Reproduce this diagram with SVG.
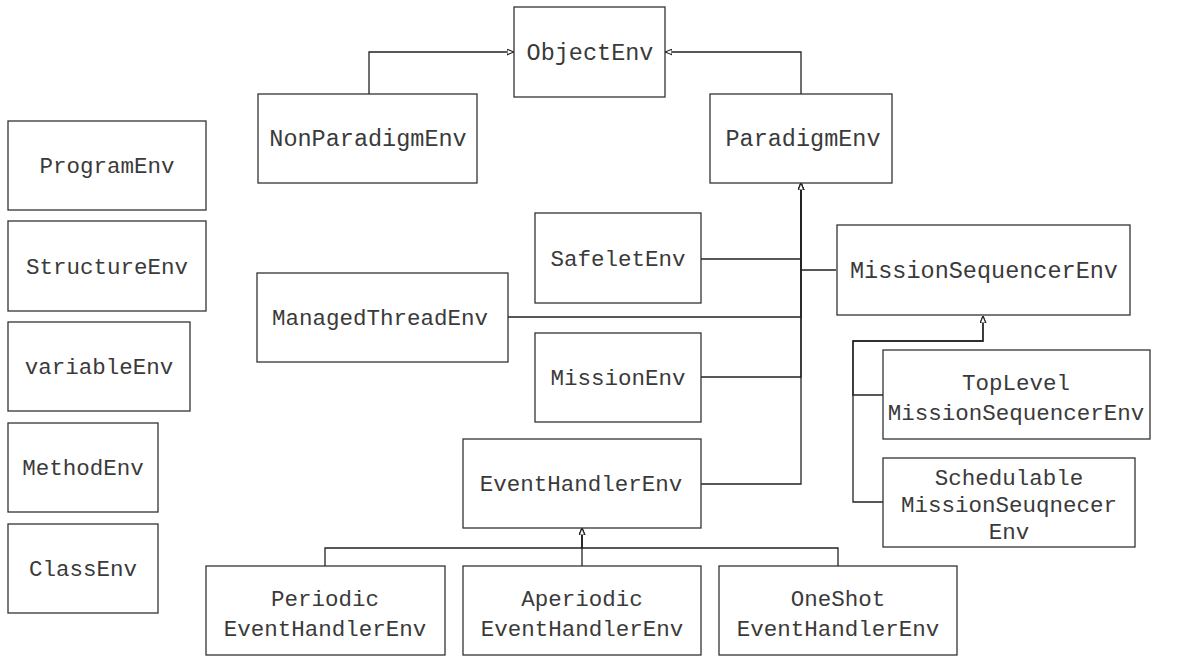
<svg xmlns="http://www.w3.org/2000/svg" width="1186" height="657" viewBox="0 0 1186 657">
  <style>
    .box { fill: #ffffff; stroke: #333333; stroke-width: 1.3; }
    .lbl { font-family: "Liberation Mono", "Courier New", monospace; font-size: 22.5px; fill: #3a3a3a; text-anchor: middle; }
    .big { font-size: 23.5px; }
    .edge { fill: none; stroke: #222222; stroke-width: 1.3; }
  </style>
  <defs>
    <marker id="tri" viewBox="0 0 10 10" refX="10" refY="5" markerWidth="7" markerHeight="7" markerUnits="userSpaceOnUse" orient="auto">
      <path d="M0,1 L10,5 L0,9 Z" fill="#ffffff" stroke="#222222" stroke-width="1.6"/>
    </marker>
  </defs>
  <rect width="1186" height="657" fill="#ffffff"/>

  <g id="connectors">
    <path class="edge" d="M369,94 V52 H514" marker-end="url(#tri)"/>
    <path class="edge" d="M801,94 V52 H665" marker-end="url(#tri)"/>
    <path class="edge" d="M701,259 H801 V183" marker-end="url(#tri)"/>
    <path class="edge" d="M836,270 H801 V183" marker-end="url(#tri)"/>
    <path class="edge" d="M508,317 H801 V183" marker-end="url(#tri)"/>
    <path class="edge" d="M701,377 H801 V183" marker-end="url(#tri)"/>
    <path class="edge" d="M701,484 H801 V183" marker-end="url(#tri)"/>
    <path class="edge" d="M883,395 H853 V341 H983 V316" marker-end="url(#tri)"/>
    <path class="edge" d="M883,502 H853 V341 H983 V316" marker-end="url(#tri)"/>
    <path class="edge" d="M325,566 V548 H582 V528" marker-end="url(#tri)"/>
    <path class="edge" d="M582,566 V528" marker-end="url(#tri)"/>
    <path class="edge" d="M838,566 V548 H582 V528" marker-end="url(#tri)"/>
  </g>

  <g id="ProgramEnv"><rect class="box" x="8" y="121" width="198" height="89"/><text class="lbl" x="107" y="173">ProgramEnv</text></g>
  <g id="StructureEnv"><rect class="box" x="8" y="221" width="198" height="90"/><text class="lbl" x="107" y="274">StructureEnv</text></g>
  <g id="variableEnv"><rect class="box" x="8" y="322" width="182" height="89"/><text class="lbl" x="99" y="374">variableEnv</text></g>
  <g id="MethodEnv"><rect class="box" x="8" y="423" width="150" height="89"/><text class="lbl" x="83" y="475">MethodEnv</text></g>
  <g id="ClassEnv"><rect class="box" x="8" y="524" width="150" height="89"/><text class="lbl" x="83" y="576">ClassEnv</text></g>

  <g id="ObjectEnv"><rect class="box" x="514" y="7" width="151" height="90"/><text class="lbl big" x="590" y="60">ObjectEnv</text></g>
  <g id="NonParadigmEnv"><rect class="box" x="258" y="94" width="219" height="89"/><text class="lbl big" x="368" y="146">NonParadigmEnv</text></g>
  <g id="ParadigmEnv"><rect class="box" x="710" y="94" width="182" height="89"/><text class="lbl big" x="803" y="146">ParadigmEnv</text></g>
  <g id="SafeletEnv"><rect class="box" x="535" y="213" width="166" height="90"/><text class="lbl" x="618" y="266">SafeletEnv</text></g>
  <g id="ManagedThreadEnv"><rect class="box" x="257" y="273" width="251" height="89"/><text class="lbl" x="380" y="325">ManagedThreadEnv</text></g>
  <g id="MissionEnv"><rect class="box" x="535" y="333" width="166" height="89"/><text class="lbl" x="618" y="385">MissionEnv</text></g>
  <g id="EventHandlerEnv"><rect class="box" x="463" y="439" width="238" height="89"/><text class="lbl" x="581" y="491">EventHandlerEnv</text></g>
  <g id="MissionSequencerEnv"><rect class="box" x="837" y="225" width="293" height="90"/><text class="lbl big" x="984" y="278">MissionSequencerEnv</text></g>
  <g id="TopLevelMissionSequencerEnv"><rect class="box" x="883" y="350" width="267" height="89"/><text class="lbl" x="1016" y="390">TopLevel</text><text class="lbl" x="1016" y="420">MissionSequencerEnv</text></g>
  <g id="SchedulableMissionSeuqnecerEnv"><rect class="box" x="883" y="458" width="252" height="89"/><text class="lbl" x="1009" y="485">Schedulable</text><text class="lbl" x="1009" y="512">MissionSeuqnecer</text><text class="lbl" x="1009" y="539">Env</text></g>
  <g id="PeriodicEventHandlerEnv"><rect class="box" x="206" y="566" width="239" height="89"/><text class="lbl" x="325" y="606">Periodic</text><text class="lbl" x="325" y="636">EventHandlerEnv</text></g>
  <g id="AperiodicEventHandlerEnv"><rect class="box" x="463" y="566" width="238" height="89"/><text class="lbl" x="582" y="606">Aperiodic</text><text class="lbl" x="582" y="636">EventHandlerEnv</text></g>
  <g id="OneShotEventHandlerEnv"><rect class="box" x="719" y="566" width="238" height="89"/><text class="lbl" x="838" y="606">OneShot</text><text class="lbl" x="838" y="636">EventHandlerEnv</text></g>
</svg>
